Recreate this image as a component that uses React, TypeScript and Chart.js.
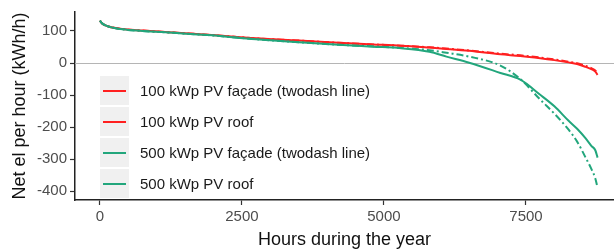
import React, { useEffect, useRef } from "react";
import { Chart, registerables } from "chart.js";

Chart.register(...registerables);

const hours = [0, 50, 150, 400, 750, 1300, 1900, 2750, 3500, 4200, 4800, 5300, 5800, 6100, 6500, 7050, 7400, 7750, 8000, 8250, 8400, 8550, 8650, 8720, 8760];
const red100Facade = [132, 122, 114, 106, 101, 95, 88, 77, 70, 63, 58, 54, 49, 45, 39, 29, 24, 17, 11, 4, -1, -9, -16, -23, -32];
const red100Roof = [132, 122, 114, 106, 101, 95, 88, 77, 70, 63, 58, 54, 48, 44, 38, 27, 22, 15, 9, 2, -3, -12, -19, -27, -37];
const green500Facade = [132, 122, 114, 105, 100, 94, 87, 74, 65, 57, 52, 47, 40, 32, 20, -8, -50, -114, -158, -208, -245, -295, -330, -360, -389];
const green500Roof = [132, 122, 114, 105, 100, 94, 87, 74, 65, 57, 51, 46, 35, 20, 1, -31, -52, -99, -135, -180, -205, -235, -258, -272, -295];

const legendLabels = [
  "100 kWp PV façade (twodash line)",
  "100 kWp PV roof",
  "500 kWp PV façade (twodash line)",
  "500 kWp PV roof",
];
const xTicks = [0, 2500, 5000, 7500];
const yTicks = [-400, -300, -200, -100, 0, 100];

const RED = "#ff2020";
const GREEN = "#22a67c";
const legendColors = [RED, RED, GREEN, GREEN];

const pts = (vals: number[]) => vals.map((v, i) => ({ x: hours[i], y: v }));

const zeroLine = {
  id: "zeroLine",
  beforeDatasetsDraw(chart: any) {
    const { ctx, chartArea, scales } = chart;
    const y = scales.y.getPixelForValue(0);
    ctx.save();
    ctx.strokeStyle = "#b5b5b5";
    ctx.lineWidth = 1;
    ctx.beginPath();
    ctx.moveTo(chartArea.left, Math.round(y) + 0.5);
    ctx.lineTo(chartArea.right, Math.round(y) + 0.5);
    ctx.stroke();
    ctx.restore();
  },
};

export default function App() {
  const ref = useRef<HTMLCanvasElement>(null);
  useEffect(() => {
    const ds = (label: string, vals: number[], color: string, dashed: boolean) => ({
      label,
      data: pts(vals),
      borderColor: color,
      backgroundColor: color,
      borderWidth: 2,
      borderDash: dashed ? [7, 3, 2, 3] : [],
      pointRadius: 0,
      cubicInterpolationMode: "monotone" as const,
      fill: false,
    });
    // Chart.js draws dataset 0 last (on top): green on top as in reference
    const chart = new Chart(ref.current!, {
      type: "line",
      data: {
        datasets: [
          ds(legendLabels[3], green500Roof, GREEN, false),
          ds(legendLabels[2], green500Facade, GREEN, true),
          ds(legendLabels[1], red100Roof, RED, false),
          ds(legendLabels[0], red100Facade, RED, true),
        ],
      },
      options: {
        animation: false,
        responsive: false,
        layout: { padding: { top: 12, right: 0, bottom: 0, left: 0 } },
        plugins: { legend: { display: false }, tooltip: { enabled: false } },
        scales: {
          x: {
            type: "linear",
            min: -438,
            max: 9049,
            afterBuildTicks: (s: any) => {
              s.ticks = xTicks.map((v) => ({ value: v }));
            },
            afterFit: (s: any) => {
              s.height = 50;
            },
            grid: { drawOnChartArea: false, drawTicks: true, tickLength: 5, tickColor: "#333", tickWidth: 1.2 },
            border: { display: true, color: "#222", width: 1.5 },
            ticks: {
              color: "#4d4d4d",
              font: { family: "Liberation Sans, Arial", size: 15 },
              padding: 3,
              maxRotation: 0,
              callback: (v: any) => String(v),
            },
            title: {
              display: true,
              text: "Hours during the year",
              color: "#111",
              font: { family: "Liberation Sans, Arial", size: 18, lineHeight: 1 },
              padding: { top: 0, bottom: 1 },
            },
          },
          y: {
            type: "linear",
            min: -427,
            max: 159,
            afterBuildTicks: (s: any) => {
              s.ticks = yTicks.map((v) => ({ value: v }));
            },
            afterFit: (s: any) => {
              s.width = 75;
            },
            grid: { drawOnChartArea: false, drawTicks: true, tickLength: 5, tickColor: "#333", tickWidth: 1.2 },
            border: { display: true, color: "#222", width: 1.5 },
            ticks: {
              color: "#4d4d4d",
              font: { family: "Liberation Sans, Arial", size: 15 },
              padding: 3,
              callback: (v: any) => String(v),
            },
            title: {
              display: true,
              text: "Net el per hour (kWh/h)",
              color: "#111",
              font: { family: "Liberation Sans, Arial", size: 18, lineHeight: 1 },
              padding: { top: 11, bottom: 0 },
            },
          },
        },
      },
      plugins: [zeroLine],
    });
    return () => chart.destroy();
  }, []);

  return (
    <div style={{ position: "fixed", left: 0, top: 0, width: 614, height: 250, background: "#fff", overflow: "hidden" }}>
      <canvas ref={ref} width={614} height={250} style={{ display: "block" }} />
      <div style={{ position: "absolute", left: 100, top: 76, fontFamily: "Liberation Sans, Arial", fontSize: 15, color: "#1a1a1a" }}>
        {legendLabels.map((l, i) => (
          <div key={l} style={{ display: "flex", alignItems: "center", height: 29, marginBottom: 2 }}>
            <div style={{ width: 29, height: 29, background: "#f0f0f0", position: "relative" }}>
              <div style={{ position: "absolute", left: 3, right: 3, top: 14, height: 2, background: legendColors[i] }} />
            </div>
            <span style={{ marginLeft: 11, whiteSpace: "nowrap" }}>{l}</span>
          </div>
        ))}
      </div>
    </div>
  );
}
